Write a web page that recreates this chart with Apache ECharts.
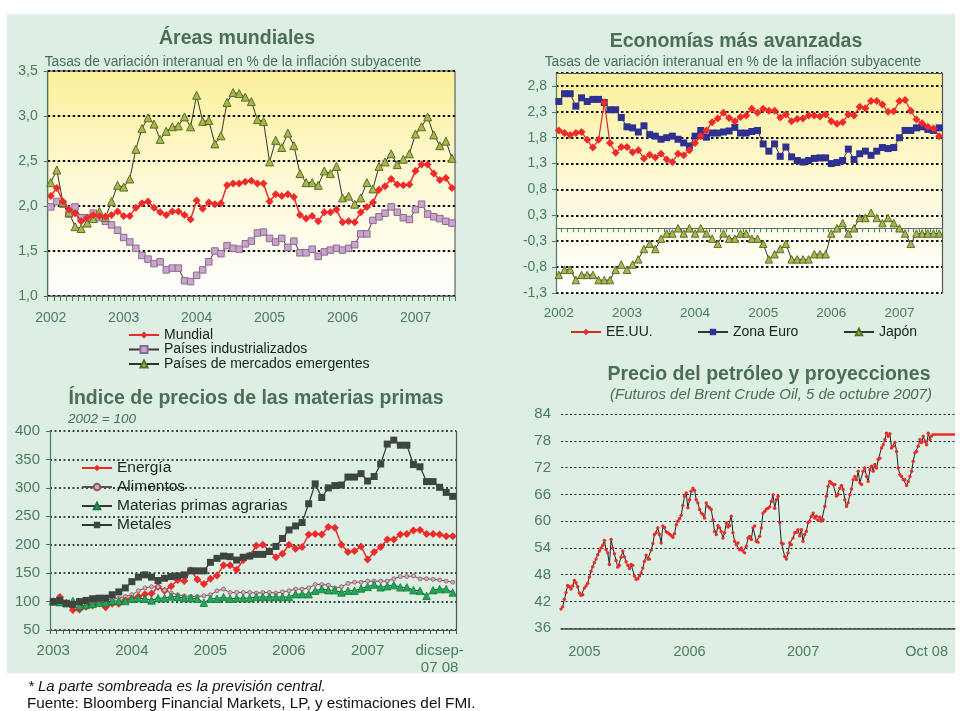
<!DOCTYPE html>
<html><head><meta charset="utf-8">
<script src="https://cdn.jsdelivr.net/npm/echarts@6.0.0/dist/echarts.min.js"></script>
<style>html,body{margin:0;padding:0;background:#fff}#c{width:960px;height:711px}</style>
</head><body><div id="c"></div>
<script>
// ---------- Áreas mundiales (monthly, Jan 2002 - Jul 2007) ----------
const mundial = [2.11,2.20,2.05,1.96,1.92,1.83,1.87,1.90,1.89,1.88,1.90,1.94,1.89,1.89,1.98,2.03,2.05,1.98,1.93,1.90,1.94,1.94,1.90,1.85,2.06,1.97,2.04,2.02,2.03,2.23,2.25,2.25,2.27,2.28,2.25,2.25,2.05,2.13,2.11,2.13,2.10,1.90,1.86,1.89,1.83,1.93,1.93,1.96,1.82,1.83,1.82,1.93,1.99,2.04,2.18,2.22,2.30,2.24,2.23,2.24,2.39,2.46,2.46,2.36,2.29,2.31,2.20];
const industrializados = [1.99,2.05,2.02,1.91,1.99,1.87,1.87,1.92,1.87,1.83,1.79,1.73,1.65,1.60,1.53,1.45,1.41,1.36,1.38,1.29,1.31,1.31,1.17,1.16,1.23,1.29,1.38,1.50,1.47,1.56,1.53,1.52,1.58,1.61,1.70,1.71,1.64,1.60,1.64,1.54,1.61,1.48,1.48,1.52,1.44,1.49,1.51,1.53,1.51,1.53,1.57,1.69,1.69,1.84,1.88,1.92,1.99,1.93,1.87,1.85,1.96,2.02,1.91,1.88,1.86,1.83,1.81];
const emergentes = [2.26,2.40,2.04,1.93,1.77,1.75,1.81,1.86,1.94,1.87,2.05,2.23,2.21,2.30,2.63,2.86,2.98,2.91,2.74,2.83,2.88,2.89,2.99,2.88,3.23,2.94,2.95,2.69,2.78,3.15,3.26,3.25,3.21,3.16,2.96,2.94,2.49,2.73,2.65,2.81,2.67,2.36,2.26,2.26,2.23,2.39,2.36,2.44,2.09,2.11,2.02,2.09,2.26,2.19,2.44,2.49,2.58,2.46,2.52,2.58,2.80,2.88,2.99,2.79,2.67,2.72,2.53];

// ---------- Economías más avanzadas (monthly, Jan 2002 - Aug 2007) ----------
const eeuu = [1.89,1.84,1.80,1.84,1.86,1.71,1.56,1.71,2.43,1.65,1.46,1.57,1.57,1.47,1.51,1.35,1.42,1.37,1.44,1.33,1.28,1.44,1.41,1.51,1.65,1.78,1.89,2.05,2.12,2.23,2.13,2.07,2.15,2.18,2.31,2.23,2.31,2.27,2.27,2.14,2.20,2.07,2.11,2.12,2.18,2.18,2.16,2.20,2.07,2.02,2.05,2.20,2.18,2.35,2.32,2.46,2.46,2.39,2.25,2.26,2.46,2.48,2.27,2.10,2.03,1.96,1.93,1.78];
const zonaEuro = [2.45,2.60,2.60,2.36,2.52,2.45,2.49,2.49,2.43,2.29,2.29,2.14,1.96,1.94,1.86,1.98,1.81,1.78,1.72,1.75,1.78,1.72,1.65,1.59,1.78,1.89,1.76,1.84,1.84,1.86,1.88,1.95,1.84,1.84,1.87,1.89,1.63,1.49,1.63,1.39,1.57,1.38,1.31,1.28,1.31,1.35,1.36,1.36,1.25,1.27,1.31,1.53,1.33,1.44,1.49,1.41,1.49,1.56,1.54,1.56,1.75,1.89,1.89,1.94,1.96,1.91,1.89,1.94];
const japon = [-0.9,-0.8,-0.8,-1.0,-0.9,-0.9,-0.9,-1.0,-1.0,-1.0,-0.8,-0.7,-0.8,-0.7,-0.6,-0.4,-0.3,-0.4,-0.2,-0.1,-0.1,0.0,-0.1,0.0,-0.1,0.0,-0.1,-0.2,-0.3,-0.1,-0.2,-0.2,-0.1,-0.1,-0.2,-0.2,-0.3,-0.6,-0.5,-0.4,-0.3,-0.6,-0.6,-0.6,-0.6,-0.5,-0.5,-0.5,-0.1,0.0,0.1,-0.1,0.0,0.2,0.2,0.3,0.2,0.1,0.2,0.1,0.0,-0.1,-0.3,-0.1,-0.1,-0.1,-0.1,-0.1];

// ---------- Índice de precios de las materias primas (2002=100, monthly from Jan 2003) ----------
const energia = [100,108,97,85,86,91,93,97,90,96,96,103,106,109,113,114,126,119,127,138,136,155,139,131,140,146,164,164,156,173,181,198,200,189,178,184,200,193,196,218,219,218,231,230,200,187,189,197,174,187,196,209,209,218,219,225,226,219,219,218,215,215];
const alimentos = [100,101,98,96,96,97,99,101,102,104,106,109,112,119,124,126,126,120,115,112,110,109,109,110,112,119,122,116,116,116,116,115,116,116,115,117,119,122,122,124,130,130,129,124,126,132,134,134,136,136,136,136,140,144,144,145,140,140,139,138,136,134];
const agrarias = [100,99,97,101,92,94,96,98,98,101,101,101,105,106,105,102,106,106,109,108,106,106,105,98,105,105,108,105,106,106,106,108,108,108,108,108,108,113,113,113,119,122,120,120,116,119,119,123,126,130,125,127,129,125,125,120,119,110,120,122,122,116];
const metales = [100,102,97,95,100,102,105,106,106,112,117,124,135,143,147,143,137,141,144,145,147,154,154,154,169,176,180,179,173,178,180,183,183,188,197,211,226,233,239,272,307,283,300,304,305,319,319,325,312,320,342,377,384,375,375,341,337,311,311,301,292,285];
const blTickCats = ['2003-01','2004-01','2005-01','2006-01','2007-01','2007-12'];
const blTickText = ['2003','2004','2005','2006','2007','dicsep-\n07 08'];

// ---------- Precio del petróleo (Brent, sampled along the trace) ----------
const oilHist = [40.3,40.8,42.5,44.0,45.6,45.3,44.8,45.5,46.7,46.2,45.3,43.9,43.4,43.5,45.0,45.5,46.1,47.5,48.8,49.8,
50.7,51.5,52.5,53.3,54.0,54.6,55.7,53.6,52.9,50.3,55.9,54.0,52.7,51.2,49.7,50.1,51.9,53.3,52.0,50.9,
50.1,49.4,50.3,50.1,47.7,47.0,47.1,47.7,48.4,49.5,51.0,52.4,51.5,51.5,53.5,55.0,57.0,57.4,58.5,57.0,
55.1,58.9,58.6,57.6,57.4,57.1,56.8,56.4,57.2,59.2,60.0,60.6,61.3,63.5,65.6,66.3,63.0,64.8,66.7,67.4,66.9,
64.8,64.1,62.6,61.8,61.5,60.7,64.1,63.3,63.0,62.6,60.3,57.7,57.0,59.0,58.5,57.7,56.2,57.4,59.6,58.7,
59.0,61.1,57.4,55.5,54.7,55.1,53.6,54.0,53.3,52.9,54.4,56.2,56.6,55.9,58.5,58.9,55.5,55.3,56.6,58.5,
61.8,62.2,62.7,62.9,63.2,64.4,65.9,62.9,64.8,65.6,59.7,55.1,54.9,52.1,51.5,52.9,55.1,54.7,56.2,57.4,
57.5,58.1,56.7,58.1,55.5,57.0,57.7,59.7,60.0,61.1,61.8,60.7,61.1,60.2,60.9,60.0,60.3,63.3,65.6,67.8,
68.9,68.5,68.2,68.2,65.6,66.0,67.4,68.0,67.1,64.8,63.3,64.1,65.9,67.2,69.3,70.0,69.3,71.2,68.6,68.2,
71.2,71.9,70.0,68.9,71.5,72.3,71.2,72.7,71.9,73.8,74.1,76.4,77.1,78.3,79.7,79.0,79.6,76.4,76.8,77.7,
75.6,71.9,70.4,70.0,69.3,69.3,68.0,68.9,70.0,71.2,73.4,75.3,75.6,76.8,78.3,77.6,79.0,77.9,77.1,79.7,
78.3,79.1];
const oilFutures = [79.4,79.4,79.4,79.4,79.4,79.4,79.4,79.4,79.4,79.4,79.4,79.4,79.4,79.4,79.4];
const oilTickIdx = [14, 77, 145, 219];
const oilTickText = ['2005','2006','2007','Oct 08'];

// ---------- helpers ----------
function months(y0, n) {
  const out = [];
  for (let i = 0; i < n; i++) out.push((y0 + Math.floor(i / 12)) + '-' + String(i % 12 + 1).padStart(2, '0'));
  return out;
}
const tlCats = months(2002, mundial.length);
const trCats = months(2002, eeuu.length);
const blCats = months(2003, energia.length);
const oilCats = Array.from({length: oilHist.length + oilFutures.length - 1}, (_, i) => String(i));
const oilFutData = Array(oilHist.length - 1).fill('-').concat(oilFutures);

const FONT = '"Liberation Sans", Arial, Helvetica, sans-serif';
const LBL = '#4f7b63';
const TTL = '#4b6d59';
const AXG = '#4f7b63';
const DOT = {color: '#111', type: [2.5, 2.5], width: 1.8};
const yellowGrad = {type: 'linear', x: 0, y: 0, x2: 0, y2: 1,
  colorStops: [{offset: 0, color: '#fcf09a'}, {offset: 0.55, color: '#fefadc'}, {offset: 1, color: '#ffffff'}]};
const comma1 = v => v.toFixed(1).replace('.', ',');
const excel1 = v => { const r = Math.sign(v) * Math.round(Math.abs(v) * 10 + 1e-9) / 10; return r.toFixed(1).replace('.', ','); };

function txt(x, y, text, font, fill, align) {
  return {type: 'text', x, y, silent: true, z: 50,
    style: {text, font, fill, align: align || 'center', verticalAlign: 'middle',
            textAlign: align || 'center', textVerticalAlign: 'middle'}};
}

const chart = echarts.init(document.getElementById('c'), null, {renderer: 'canvas'});
const option = {
  animation: false,
  backgroundColor: '#ffffff',
  textStyle: {fontFamily: FONT},
  graphic: [
    {type: 'rect', silent: true, z: -100, shape: {x: 7, y: 14, width: 948, height: 659}, style: {fill: '#dcefe2'}},
    txt(237, 39, 'Áreas mundiales', 'bold 19.5px ' + FONT, TTL),
    txt(233, 62, 'Tasas de variación interanual en % de la inflación subyacente', '13.8px ' + FONT, TTL),
    txt(736, 42, 'Economías más avanzadas', 'bold 19.5px ' + FONT, TTL),
    txt(733, 62, 'Tasas de variación interanual en % de la inflación subyacente', '13.8px ' + FONT, TTL),
    txt(256, 399, 'Índice de precios de las materias primas', 'bold 19.5px ' + FONT, TTL),
    txt(68, 419, '2002 = 100', 'italic 13.5px ' + FONT, TTL, 'left'),
    txt(769, 375, 'Precio del petróleo y proyecciones', 'bold 19.5px ' + FONT, TTL),
    txt(771, 395, '(Futuros del Brent Crude Oil, 5 de octubre 2007)', 'italic 15px ' + FONT, TTL),
    txt(28, 687, '* La parte sombreada es la previsión central.', 'italic 15px ' + FONT, '#111', 'left'),
    txt(27, 704, 'Fuente: Bloomberg Financial Markets, LP, y estimaciones del FMI.', '15.3px ' + FONT, '#111', 'left')
  ],
  grid: [
    {left: 47.7, top: 71, width: 407.3, height: 225, show: true, backgroundColor: yellowGrad, borderColor: '#444', borderWidth: 1, containLabel: false, outerBoundsMode: 'none'},
    {left: 556, top: 73, width: 386, height: 220, show: true, backgroundColor: yellowGrad, borderWidth: 0, containLabel: false, outerBoundsMode: 'none'},
    {left: 50, top: 431, width: 406, height: 199, show: false, containLabel: false, outerBoundsMode: 'none'},
    {left: 561, top: 414, width: 394, height: 214.3, show: false, containLabel: false, outerBoundsMode: 'none'}
  ],
  legend: [
    {data: ['Mundial', 'Países industrializados', 'Países de mercados emergentes'], orient: 'vertical', left: 128, top: 328, padding: 0,
     itemWidth: 30, itemHeight: 9, itemGap: 0.5, selectedMode: false, textStyle: {fontSize: 14, color: '#222', fontFamily: FONT}},
    {data: ['EE.UU.'], left: 570, top: 325, padding: 0, itemWidth: 30, itemHeight: 8, selectedMode: false, textStyle: {fontSize: 14, color: '#222', fontFamily: FONT}},
    {data: ['Zona Euro'], left: 697, top: 325, padding: 0, itemWidth: 30, itemHeight: 8, selectedMode: false, textStyle: {fontSize: 14, color: '#222', fontFamily: FONT}},
    {data: ['Japón'], left: 843, top: 325, padding: 0, itemWidth: 30, itemHeight: 8, selectedMode: false, textStyle: {fontSize: 14, color: '#222', fontFamily: FONT}},
    {data: ['Energía', 'Alimentos', 'Materias primas agrarias', 'Metales'], orient: 'vertical', left: 81, top: 460, padding: 0,
     itemWidth: 30, itemHeight: 8, itemGap: 3, selectedMode: false, textStyle: {fontSize: 15.5, color: '#222', fontFamily: FONT}}
  ],
  xAxis: [
    {type: 'category', gridIndex: 0, data: tlCats, boundaryGap: true,
     axisLine: {lineStyle: {color: AXG, width: 1.2}},
     axisTick: {show: true, interval: 0, length: 5, lineStyle: {color: AXG}},
     axisLabel: {interval: (i, v) => v.endsWith('-01'), formatter: v => v.slice(0, 4), color: LBL, fontSize: 14, fontFamily: FONT, margin: 15},
     splitLine: {show: false}},
    {type: 'category', gridIndex: 1, data: trCats, boundaryGap: true, position: 'top',
     axisLine: {onZero: true, lineStyle: {color: AXG, width: 1.2}},
     axisTick: {show: true, inside: true, interval: 0, length: 4, lineStyle: {color: AXG}},
     axisLabel: {show: false}, splitLine: {show: false}},
    {type: 'category', gridIndex: 1, data: trCats, boundaryGap: true, position: 'bottom',
     axisLine: {show: false, onZero: false}, axisTick: {show: false},
     axisLabel: {interval: (i, v) => v.endsWith('-01'), formatter: v => v.slice(0, 4), color: LBL, fontSize: 13.5, fontFamily: FONT, margin: 13},
     splitLine: {show: false}},
    {type: 'category', gridIndex: 2, data: blCats, boundaryGap: true,
     axisLine: {onZero: false, lineStyle: {color: '#555', width: 1.2}},
     axisTick: {show: true, interval: 0, length: 4, lineStyle: {color: '#555'}},
     axisLabel: {interval: (i, v) => blTickCats.includes(v), formatter: v => blTickText[blTickCats.indexOf(v)],
                 color: LBL, fontSize: 15, lineHeight: 17, fontFamily: FONT, margin: 12},
     splitLine: {show: false}},
    {type: 'category', gridIndex: 3, data: oilCats, boundaryGap: false,
     axisLine: {onZero: false, lineStyle: {color: '#444', width: 1.5}},
     axisTick: {show: false},
     axisLabel: {interval: i => oilTickIdx.includes(i), formatter: (v, i) => oilTickText[oilTickIdx.indexOf(i)],
                 color: LBL, fontSize: 14.5, fontFamily: FONT, margin: 16},
     splitLine: {show: false}}
  ],
  yAxis: [
    {type: 'value', gridIndex: 0, min: 1, max: 3.5, interval: 0.5,
     axisLine: {show: true, lineStyle: {color: AXG, width: 1.2}},
     axisTick: {show: true, length: 4, lineStyle: {color: AXG}},
     axisLabel: {formatter: comma1, color: LBL, fontSize: 14, fontFamily: FONT, margin: 10},
     splitLine: {show: true, lineStyle: DOT}},
    {type: 'value', gridIndex: 1, min: -1.25, max: 3, interval: 0.5,
     axisLine: {show: true, lineStyle: {color: AXG, width: 1.2}},
     axisTick: {show: true, length: 4, lineStyle: {color: AXG}},
     axisLabel: {formatter: excel1, showMaxLabel: false, color: LBL, fontSize: 14, fontFamily: FONT, margin: 9},
     splitLine: {show: true, lineStyle: DOT}},
    {type: 'value', gridIndex: 1, position: 'right', min: -1.25, max: 3, interval: 0.5,
     axisLine: {show: true, lineStyle: {color: '#555', width: 1.2}}, axisTick: {show: false}, axisLabel: {show: false}, splitLine: {show: false}},
    {type: 'value', gridIndex: 2, min: 50, max: 400, interval: 50,
     axisLine: {show: true, lineStyle: {color: AXG, width: 1.2}},
     axisTick: {show: true, length: 4, lineStyle: {color: AXG}},
     axisLabel: {color: LBL, fontSize: 15, fontFamily: FONT, margin: 10},
     splitLine: {show: true, lineStyle: {color: '#111', type: [2, 2.5], width: 1.6}}},
    {type: 'value', gridIndex: 2, position: 'right', min: 50, max: 400, interval: 50,
     axisLine: {show: true, lineStyle: {color: '#555', width: 1.2}}, axisTick: {show: false}, axisLabel: {show: false}, splitLine: {show: false}},
    {type: 'value', gridIndex: 3, min: 36, max: 84, interval: 6,
     axisLine: {show: false}, axisTick: {show: false},
     axisLabel: {color: LBL, fontSize: 15, fontFamily: FONT, margin: 10},
     splitLine: {show: true, lineStyle: {color: '#222', type: [2, 2.5], width: 1.2}}}
  ],
  series: [
    {name: 'Mundial', type: 'line', xAxisIndex: 0, yAxisIndex: 0, data: mundial, symbol: 'diamond', symbolSize: 8, showAllSymbol: true,
     lineStyle: {color: '#ee2a2a', width: 1.5}, itemStyle: {color: '#ee2a2a'}, z: 4},
    {name: 'Países industrializados', type: 'line', xAxisIndex: 0, yAxisIndex: 0, data: industrializados, symbol: 'rect', symbolSize: 6.5, showAllSymbol: true,
     lineStyle: {color: '#3a3a3a', width: 1}, itemStyle: {color: '#c9a5cc', borderColor: '#8d6b91', borderWidth: 1}, z: 3},
    {name: 'Países de mercados emergentes', type: 'line', xAxisIndex: 0, yAxisIndex: 0, data: emergentes, symbol: 'triangle', symbolSize: 8, showAllSymbol: true,
     lineStyle: {color: '#333', width: 1}, itemStyle: {color: '#a8b64e', borderColor: '#5b6e2a', borderWidth: 1}, z: 3},

    {name: 'EE.UU.', type: 'line', xAxisIndex: 2, yAxisIndex: 1, data: eeuu, symbol: 'diamond', symbolSize: 8, showAllSymbol: true,
     lineStyle: {color: '#d42a2a', width: 1.2}, itemStyle: {color: '#ee2a2a'}, z: 4,
     markLine: {silent: true, symbol: ['none', 'none'], label: {show: false}, lineStyle: {color: '#555', type: 'solid', width: 1.2}, data: [{yAxis: 3}]}},
    {name: 'Zona Euro', type: 'line', xAxisIndex: 2, yAxisIndex: 1, data: zonaEuro, symbol: 'rect', symbolSize: 7, showAllSymbol: true,
     lineStyle: {color: '#333', width: 1}, itemStyle: {color: '#2e3192'}, z: 3},
    {name: 'Japón', type: 'line', xAxisIndex: 2, yAxisIndex: 1, data: japon, symbol: 'triangle', symbolSize: 7.5, showAllSymbol: true,
     lineStyle: {color: '#333', width: 1}, itemStyle: {color: '#a8b64e', borderColor: '#5b6e2a', borderWidth: 1}, z: 3},

    {name: 'Energía', type: 'line', xAxisIndex: 3, yAxisIndex: 3, data: energia, symbol: 'diamond', symbolSize: 8, showAllSymbol: true,
     lineStyle: {color: '#ee2a2a', width: 1.5}, itemStyle: {color: '#ee2a2a'}, z: 3},
    {name: 'Alimentos', type: 'line', xAxisIndex: 3, yAxisIndex: 3, data: alimentos, symbol: 'circle', symbolSize: 4, showAllSymbol: true,
     lineStyle: {color: '#555', width: 1}, itemStyle: {color: '#dcaabb', borderColor: '#8c5a6a', borderWidth: 0.8}, z: 3},
    {name: 'Materias primas agrarias', type: 'line', xAxisIndex: 3, yAxisIndex: 3, data: agrarias, symbol: 'triangle', symbolSize: 7.5, showAllSymbol: true,
     lineStyle: {color: '#333', width: 1}, itemStyle: {color: '#1fa855', borderColor: '#147a3c', borderWidth: 0.8}, z: 3},
    {name: 'Metales', type: 'line', xAxisIndex: 3, yAxisIndex: 3, data: metales, symbol: 'rect', symbolSize: 7, showAllSymbol: true,
     lineStyle: {color: '#333', width: 1.2}, itemStyle: {color: '#3e4540'}, z: 3},

    {name: 'Brent', type: 'line', xAxisIndex: 4, yAxisIndex: 5, data: oilHist, symbol: 'circle', symbolSize: 3.4, showAllSymbol: true,
     lineStyle: {color: '#222', width: 1}, itemStyle: {color: '#ee2a2a'}, z: 3},
    {name: 'Futuros', type: 'line', xAxisIndex: 4, yAxisIndex: 5, data: oilFutData, symbol: 'none',
     lineStyle: {color: '#ee2a2a', width: 2.5}, z: 3}
  ]
};
chart.setOption(option);
</script></body></html>
